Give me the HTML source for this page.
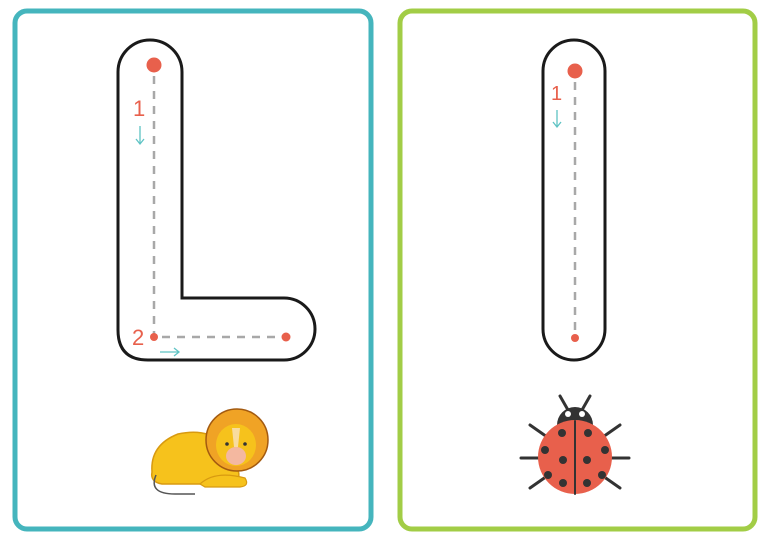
<!DOCTYPE html>
<html><head><meta charset="utf-8"><style>
html,body{margin:0;padding:0;background:#fff;}
svg{display:block;font-family:"Liberation Sans",sans-serif;}
</style></head><body>
<svg width="771" height="540" viewBox="0 0 771 540">
<rect x="0" y="0" width="771" height="540" fill="#fff"/>
<g>
<rect x="15" y="11" width="356" height="518" rx="12" fill="#fff" stroke="#45b5bd" stroke-width="5"/>
<path d="M118,72 A32,32 0 0 1 182,72 L182,298 L284,298 A31,31 0 0 1 284,360 L148,360 Q118,360 118,330 Z" fill="#fff" stroke="#1a1a1a" stroke-width="3"/>
<line x1="154" y1="76" x2="154" y2="334" stroke="#a8a8a8" stroke-width="2.5" stroke-dasharray="8,7"/>
<line x1="162" y1="337" x2="282" y2="337" stroke="#a8a8a8" stroke-width="2.5" stroke-dasharray="8,7"/>
<circle cx="154" cy="65" r="7.5" fill="#e8604c"/>
<circle cx="154" cy="337" r="4" fill="#e8604c"/>
<circle cx="286" cy="337" r="4.5" fill="#e8604c"/>
<text x="133" y="116" font-size="22" fill="#e8604c">1</text>
<g stroke="#5ec3c4" stroke-width="1.3" fill="none"><line x1="140" y1="126" x2="140" y2="144"/><polyline points="136,139 140,144 144,139"/></g>
<text x="132" y="345" font-size="22" fill="#e8604c">2</text>
<g stroke="#5ec3c4" stroke-width="1.3" fill="none"><line x1="160" y1="352" x2="179" y2="352"/><polyline points="174,348 179,352 174,356"/></g>
<g>
<path d="M152,472 Q150,445 178,434 Q205,428 222,442 L238,470 Q242,482 228,484 L162,484 Q150,482 152,472Z" fill="#f6c21c" stroke="#d89a10" stroke-width="1.5"/>
<path d="M156,475 Q148,494 175,494 L195,494" fill="none" stroke="#555" stroke-width="1.5"/>
<circle cx="237" cy="440" r="31" fill="#f0a325" stroke="#a35a10" stroke-width="1.5"/>
<ellipse cx="236" cy="445" rx="20" ry="21" fill="#f6c21c"/>
<ellipse cx="236" cy="456" rx="10" ry="9" fill="#f4b8a0"/>
<path d="M232,428 L240,428 L238,447 L234,447Z" fill="#f8dca0"/>
<circle cx="227" cy="444" r="1.8" fill="#333"/><circle cx="245" cy="444" r="1.8" fill="#333"/>
<path d="M200,484 Q215,470 245,478 Q250,486 240,487 L205,487Z" fill="#f6c21c" stroke="#d89a10" stroke-width="1.2"/>
</g>
</g>
<g>
<rect x="400" y="11" width="355" height="518" rx="12" fill="#fff" stroke="#a2cd46" stroke-width="5"/>
<path d="M543,71 A31,31 0 0 1 605,71 L605,329 A31,31 0 0 1 543,329 Z" fill="#fff" stroke="#1a1a1a" stroke-width="3"/>
<line x1="575" y1="82" x2="575" y2="332" stroke="#a8a8a8" stroke-width="2.5" stroke-dasharray="8,7"/>
<circle cx="575" cy="71" r="7.5" fill="#e8604c"/>
<circle cx="575" cy="338" r="4" fill="#e8604c"/>
<text x="551" y="100" font-size="20" fill="#e8604c">1</text>
<g stroke="#5ec3c4" stroke-width="1.3" fill="none"><line x1="557" y1="110" x2="557" y2="127"/><polyline points="553,122 557,127 561,122"/></g>
<g stroke="#333" stroke-width="3" stroke-linecap="round">
<line x1="568" y1="410" x2="560" y2="396"/>
<line x1="582" y1="410" x2="590" y2="396"/>
<line x1="521" y1="458" x2="629" y2="458"/>
<line x1="530" y1="425" x2="620" y2="488"/>
<line x1="620" y1="425" x2="530" y2="488"/>
<path d="M557,425 A18,18 0 0 1 593,425 Z" fill="#333" stroke="none"/>
<circle cx="568" cy="414" r="3" fill="#fff" stroke="none"/>
<circle cx="582" cy="414" r="3" fill="#fff" stroke="none"/>
<circle cx="575" cy="457" r="37" fill="#e8604c" stroke="none"/>
<line x1="575" y1="421" x2="575" y2="494" stroke="#333" stroke-width="2"/>
<g fill="#333" stroke="none">
<circle cx="562" cy="433" r="4"/><circle cx="588" cy="433" r="4"/>
<circle cx="545" cy="450" r="4"/><circle cx="605" cy="450" r="4"/>
<circle cx="563" cy="460" r="4"/><circle cx="587" cy="460" r="4"/>
<circle cx="548" cy="475" r="4"/><circle cx="602" cy="475" r="4"/>
<circle cx="563" cy="483" r="4"/><circle cx="587" cy="483" r="4"/>
</g>
</g>
</g>
</svg>
</body></html>
